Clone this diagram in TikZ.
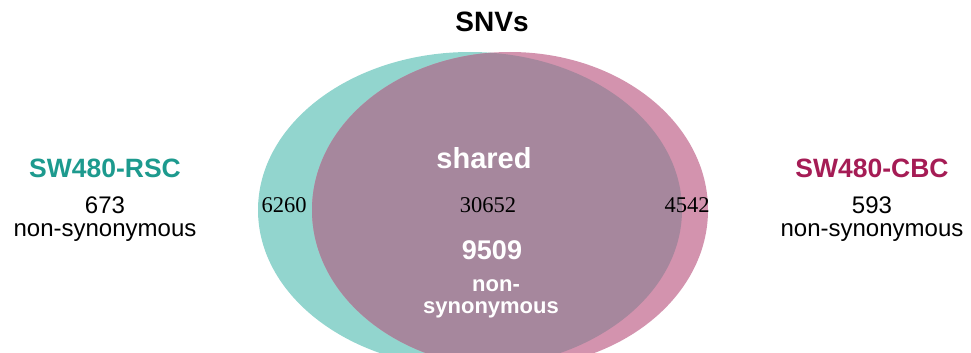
\documentclass[tikz,border=0pt]{standalone}
\usepackage{fontspec}
\setmainfont{Liberation Sans}
\newfontfamily\numfont{Liberation Serif}
\usepackage{tikz}
\usetikzlibrary{positioning}
\definecolor{rscfill}{RGB}{146,213,206}
\definecolor{cbcfill}{RGB}{211,147,174}
\definecolor{sharedfill}{RGB}{166,135,157}
\definecolor{rsctext}{RGB}{29,154,142}
\definecolor{cbctext}{RGB}{165,28,85}
\tikzset{
  title/.style={font=\fontsize{28}{30}\selectfont\bfseries},
  sample/.style={font=\fontsize{26.5}{28}\selectfont\bfseries},
  count/.style={font=\fontsize{24}{26}\selectfont},
  region/.style={font=\fontsize{22.5}{24}\selectfont\numfont},
  inner/.style={text=white, font=\fontsize{22}{24}\selectfont\bfseries},
}

\begin{document}
\begin{tikzpicture}[x=1pt, y=-1pt]
  \useasboundingbox (0,0) rectangle (971,353);

  % the two sets
  \fill[rscfill] (470,210) ellipse [x radius=212, y radius=158];
  \fill[cbcfill] (510,210) ellipse [x radius=198, y radius=158];
  \begin{scope}
    \clip (470,210) ellipse [x radius=212, y radius=158];
    \fill[sharedfill] (510,210) ellipse [x radius=198, y radius=158];
  \end{scope}

  \node[title] (SNV) at (492,22) {SNVs};

  \node[region] (RSC) at (284,205) {6260};
  \node[region] (BOTH) at (488,205) {30652};
  \node[region] (CBC) at (687,205) {4542};

  \node[inner, font=\fontsize{29}{31}\selectfont\bfseries] (SHARED) at (484,158) {shared};
  \node[inner, font=\fontsize{27}{29}\selectfont\bfseries] (NSBOTH) at (492,250) {9509};
  \node[inner] (NON) at (496,286) {non-};
  \node[inner] (SYN) at (491,310) {synonymous};

  % left sample
  \node[sample, text=rsctext] (RSCNAME) at (105,168) {SW480-RSC};
  \node[count] (RSCNUM) at (105,205) {673};
  \node[count] (RSCNS) at (105,233) {non-synonymous};

  % right sample
  \node[sample, text=cbctext] (CBCNAME) at (872,168) {SW480-CBC};
  \node[count] (CBCNUM) at (872,205) {593};
  \node[count] (CBCNS) at (872,233) {non-synonymous};
\end{tikzpicture}
\end{document}
